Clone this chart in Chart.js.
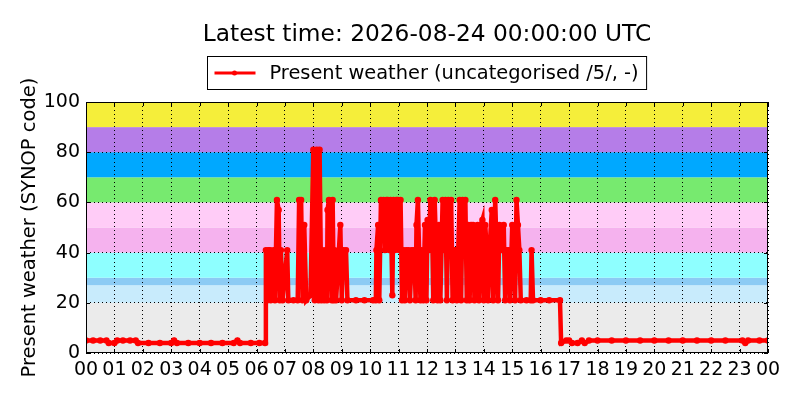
<!DOCTYPE html>
<html>
<head>
<meta charset="utf-8">
<script src="https://cdn.jsdelivr.net/npm/chart.js@4"></script>
<style>
  html, body { margin: 0; padding: 0; background: #fff; }
  #wrap { width: 800px; height: 400px; }
</style>
</head>
<body>
<div id="wrap"><canvas id="wxChart" width="800" height="400"></canvas></div>
<script>
// observation times (hours since 00 UTC) and present weather codes
const hours = [
  0, 0.25, 0.5, 0.72, 0.8, 1.0, 1.1, 1.3, 1.55, 1.75, 1.83, 2.2, 2.6, 3.0, 3.1, 3.2, 3.6, 4.0, 4.4, 4.8,
  5.2, 5.33, 5.42, 5.8, 6.1, 6.3, 6.33, 6.38, 6.42, 6.47, 6.5, 6.6, 6.65, 6.72, 6.78, 6.82, 6.86, 6.92, 7.08, 7.12,
  7.3, 7.45, 7.5, 7.57, 7.62, 7.68, 7.75, 7.9, 8.0, 8.05, 8.12, 8.18, 8.22, 8.28, 8.3, 8.38, 8.42, 8.48, 8.5, 8.55,
  8.6, 8.65, 8.68, 8.72, 8.75, 8.8, 8.95, 9.0, 9.05, 9.15, 9.2, 9.5, 9.8, 10.1, 10.2, 10.22, 10.28, 10.32, 10.38, 10.42,
  10.47, 10.52, 10.57, 10.62, 10.67, 10.72, 10.78, 10.82, 10.87, 10.92, 10.97, 11.02, 11.07, 11.12, 11.17, 11.22, 11.27, 11.35, 11.4, 11.47,
  11.55, 11.6, 11.63, 11.68, 11.72, 11.77, 11.82, 11.87, 11.93, 11.98, 12.02, 12.07, 12.12, 12.17, 12.22, 12.27, 12.32, 12.37, 12.42, 12.47,
  12.55, 12.6, 12.65, 12.7, 12.75, 12.8, 12.85, 12.9, 12.95, 13.0, 13.05, 13.1, 13.15, 13.2, 13.25, 13.3, 13.35, 13.4, 13.45, 13.5,
  13.55, 13.62, 13.67, 13.72, 13.78, 13.83, 13.9, 13.95, 14.0, 14.05, 14.1, 14.15, 14.2, 14.28, 14.33, 14.4, 14.45, 14.5, 14.55, 14.6,
  14.65, 14.7, 14.75, 14.8, 14.88, 14.92, 15.0, 15.05, 15.1, 15.15, 15.2, 15.25, 15.3, 15.5, 15.65, 15.68, 15.73, 16.0, 16.3, 16.68,
  16.72, 16.9, 17.0, 17.1, 17.3, 17.45, 17.55, 17.7, 18.0, 18.5, 19.0, 19.5, 20.0, 20.5, 21.0, 21.5, 22.0, 22.5, 23.1, 23.2,
  23.3, 23.7, 24.0
];
const codes = [
  5, 5, 5, 5, 4, 4, 5, 5, 5, 5, 4, 4, 4, 4, 5, 4, 4, 4, 4, 4,
  4, 5, 4, 4, 4, 4, 41, 21, 41, 41, 21, 41, 21, 61, 57, 21, 41, 21, 41, 21,
  21, 21, 61, 61, 21, 51, 21, 23, 81, 21, 81, 21, 81, 21, 41, 21, 41, 21, 57, 61,
  41, 21, 61, 21, 41, 21, 51, 21, 41, 41, 21, 21, 21, 21, 21, 41, 51, 21, 61, 51,
  61, 41, 61, 61, 41, 61, 23, 61, 41, 61, 61, 41, 61, 21, 41, 21, 41, 41, 21, 41,
  41, 21, 51, 61, 41, 21, 41, 21, 51, 21, 53, 41, 61, 57, 21, 61, 41, 21, 51, 21,
  61, 41, 61, 21, 61, 41, 61, 21, 41, 41, 21, 41, 61, 21, 61, 41, 61, 21, 51, 21,
  51, 51, 21, 41, 51, 21, 51, 53, 21, 51, 41, 21, 41, 57, 21, 61, 41, 21, 51, 41,
  41, 51, 21, 41, 41, 21, 51, 41, 21, 61, 51, 41, 21, 21, 21, 41, 21, 21, 21, 21,
  4, 5, 5, 4, 4, 5, 4, 5, 5, 5, 5, 5, 5, 5, 5, 5, 5, 5, 5, 4,
  5, 5, 5
];
const hourTicks = [0, 1, 2, 3, 4, 5, 6, 7, 8, 9, 10, 11, 12, 13, 14, 15, 16, 17, 18, 19, 20, 21, 22, 23, 24];
const codeTicks = [0, 20, 40, 60, 80, 100];

// background bands of SYNOP code groups
const bandFrom  = [0, 20, 27, 30, 40, 50, 60, 70, 80, 90];
const bandTo    = [20, 27, 30, 40, 50, 60, 70, 80, 90, 100];
const bandColor = ['#ebebeb', '#c8ebfc', '#8ccbf4', '#8effff', '#f5b2ee', '#ffccf7',
                   '#77ea6f', '#00a8ff', '#b57de8', '#f5ee3a'];

const titleText = 'Latest time: 2026-08-24 00:00:00 UTC';
const seriesName = 'Present weather (uncategorised /5/, -)';
const FONT = 'DejaVu Sans';

const bandsPlugin = {
    id: 'bands',
    beforeDraw(chart) {
        const { ctx, chartArea: a, scales: { y } } = chart;
        ctx.save();
        for (let i = 0; i < bandFrom.length; i++) {
            const top = y.getPixelForValue(bandTo[i]);
            const bot = y.getPixelForValue(bandFrom[i]);
            ctx.fillStyle = bandColor[i];
            ctx.fillRect(a.left, top, a.right - a.left, bot - top);
        }
        ctx.restore();
    },
    afterDraw(chart) {
        const { ctx, chartArea: a } = chart;
        ctx.save();
        // frame
        ctx.strokeStyle = '#000';
        ctx.lineWidth = 1;
        ctx.strokeRect(a.left + 0.5, a.top + 0.5, a.right - a.left - 1, a.bottom - a.top - 1);
        // small inward tick marks
        const x = chart.scales.x, y = chart.scales.y;
        ctx.beginPath();
        hourTicks.forEach(h => {
            const px = Math.round(x.getPixelForValue(h)) + 0.5;
            ctx.moveTo(px, a.bottom); ctx.lineTo(px, a.bottom - 4);
            ctx.moveTo(px, a.top); ctx.lineTo(px, a.top + 4);
        });
        codeTicks.forEach(v => {
            const py = Math.round(y.getPixelForValue(v)) + 0.5;
            ctx.moveTo(a.left, py); ctx.lineTo(a.left + 4, py);
            ctx.moveTo(a.right, py); ctx.lineTo(a.right - 4, py);
        });
        ctx.stroke();

        // title
        const cx = (a.left + a.right) / 2;
        ctx.fillStyle = '#000';
        ctx.font = '23.3px "' + FONT + '"';
        ctx.textAlign = 'center';
        ctx.textBaseline = 'middle';
        ctx.fillText(titleText, cx, 35);

        // legend box
        ctx.font = '19.4px "' + FONT + '"';
        const tw = ctx.measureText(seriesName).width;
        const boxW = tw + 70, boxH = 33;
        const bx = Math.round(cx - boxW / 2) + 0.5, by = 56.5;
        ctx.fillStyle = '#fff';
        ctx.fillRect(bx, by, boxW, boxH);
        ctx.strokeRect(bx, by, boxW, boxH);
        const ly = by + boxH / 2;
        ctx.strokeStyle = 'red';
        ctx.lineWidth = 3;
        ctx.beginPath();
        ctx.moveTo(bx + 7, ly); ctx.lineTo(bx + 48, ly);
        ctx.stroke();
        ctx.fillStyle = 'red';
        ctx.beginPath();
        ctx.arc(bx + 27, ly, 2.5, 0, Math.PI * 2);
        ctx.fill();
        ctx.fillStyle = '#000';
        ctx.textAlign = 'left';
        ctx.fillText(seriesName, bx + 62, ly + 1);
        ctx.restore();
    }
};

window.onload = function () {
    const ctx = document.getElementById('wxChart').getContext('2d');
    new Chart(ctx, {
        type: 'line',
        data: {
            datasets: [{
                label: seriesName,
                data: hours.map((h, i) => ({ x: h, y: codes[i] })),
                borderColor: '#ff0000',
                backgroundColor: '#ff0000',
                borderWidth: 4.5,
                pointRadius: 3.2,
                pointHoverRadius: 3.2,
                pointBorderWidth: 0,
                tension: 0,
                fill: false
            }]
        },
        plugins: [bandsPlugin],
        options: {
            responsive: false,
            animation: false,
            devicePixelRatio: 1,
            layout: { padding: { top: 102, right: 32, left: 0, bottom: 0 } },
            plugins: {
                legend: { display: false },
                title: { display: false },
                tooltip: { enabled: false }
            },
            scales: {
                x: {
                    type: 'linear',
                    min: 0,
                    max: 24,
                    afterBuildTicks: scale => { scale.ticks = hourTicks.map(v => ({ value: v })); },
                    afterFit: scale => { scale.height = 47; },
                    ticks: {
                        autoSkip: false,
                        maxRotation: 0,
                        padding: 6,
                        color: '#000',
                        font: { family: FONT, size: 19 },
                        callback: v => String(v % 24).padStart(2, '0')
                    },
                    grid: { color: '#000', lineWidth: 1, drawTicks: false },
                    border: { display: false, dash: [1, 3] }
                },
                y: {
                    min: 0,
                    max: 100,
                    afterBuildTicks: scale => { scale.ticks = codeTicks.map(v => ({ value: v })); },
                    afterFit: scale => { scale.width = 86; },
                    ticks: {
                        padding: 6,
                        color: '#000',
                        font: { family: FONT, size: 19 }
                    },
                    grid: { color: '#000', lineWidth: 1, drawTicks: false },
                    border: { display: false, dash: [1, 3] },
                    title: {
                        display: true,
                        text: 'Present weather (SYNOP code)',
                        color: '#000',
                        font: { family: FONT, size: 19.5 },
                        padding: { top: 18, bottom: 0 }
                    }
                }
            }
        }
    });
};
</script>
</body>
</html>
